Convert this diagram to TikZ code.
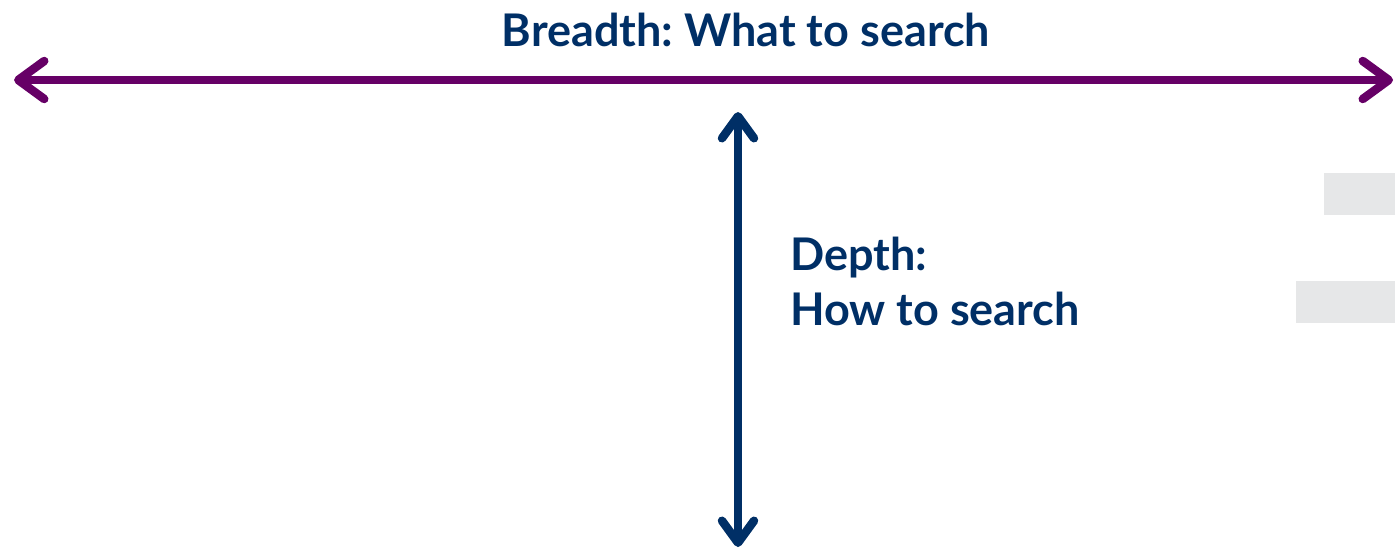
\documentclass[tikz,border=0pt]{standalone}
\usepackage{fontspec}
\newfontfamily\labelfont{Lato}
\usetikzlibrary{arrows.meta}
\frenchspacing

\definecolor{breadthpurple}{HTML}{660066}
\definecolor{depthnavy}{HTML}{002F66}
\definecolor{panelgray}{HTML}{E6E7E8}

\tikzset{
  axislabel/.style={inner sep=0pt,text=depthnavy,font=\labelfont\bfseries\fontsize{45}{55}\selectfont},
  bigarrow/.style={line width=8.5pt,{Straight Barb[length=26pt,width=38pt,round]}-{Straight Barb[length=26pt,width=38pt,round]}}
}

\begin{document}
\begin{tikzpicture}[x=1pt,y=-1pt]
        % Frame
        \useasboundingbox (0,0) rectangle (1395,550);

        % Gray panels at the right edge
        \fill[panelgray] (1324,173) rectangle (1395,215);
        \fill[panelgray] (1296,281) rectangle (1395,323);

        % Breadth
        \coordinate (bleft) at (14,80);
        \coordinate (bright) at (1393,80);
        \draw[bigarrow,breadthpurple] (bleft) -- (bright);
        \node[axislabel,anchor=base] (breadth) at (746,46) {Breadth: What to search};

        % Depth
        \coordinate (dtop) at (738,112);
        \coordinate (dbottom) at (738,547);
        \draw[bigarrow,depthnavy,{Straight Barb[length=22pt,width=32pt,round]}-{Straight Barb[length=22pt,width=32pt,round]}] (dtop) -- (dbottom);
        \node[axislabel,anchor=base west,align=left] (depth) at (790,325) {Depth:\\How to search};
      \end{tikzpicture}
\end{document}
